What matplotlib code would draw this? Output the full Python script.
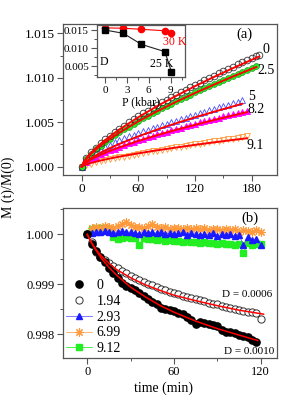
import matplotlib
matplotlib.use("Agg")
import matplotlib.pyplot as plt
from matplotlib.ticker import MultipleLocator

plt.rcParams['font.family'] = ['Liberation Serif', 'DejaVu Serif']
plt.rcParams['mathtext.fontset'] = 'stix'

# ---------------- panel (a) data ----------------
t_a0 = [0, 5, 10, 15, 20, 25, 30, 35, 40, 45, 50, 55, 60, 65, 70, 75, 80, 85, 90, 95, 100,
        105, 110, 115, 120, 125, 130, 135, 140, 145, 150, 155, 160, 165, 170, 175, 180, 185, 188]
m_p0 = [1.00000, 1.00100, 1.00162, 1.00215, 1.00263, 1.00307, 1.00349, 1.00388, 1.00427, 1.00463,
        1.00499, 1.00533, 1.00566, 1.00599, 1.00631, 1.00662, 1.00693, 1.00723, 1.00752, 1.00781,
        1.00810, 1.00838, 1.00866, 1.00893, 1.00920, 1.00947, 1.00973, 1.00999, 1.01025, 1.01051,
        1.01076, 1.01101, 1.01126, 1.01150, 1.01174, 1.01198, 1.01222, 1.01246, 1.01260]

t_a25 = [0, 5, 10, 15, 20, 25, 30, 35, 40, 45, 50, 55, 60, 65, 70, 75, 80, 85, 90, 95, 100,
         105, 110, 115, 120, 125, 130, 135, 140, 145, 150, 155, 160, 165, 170, 175, 180, 185]
m_p25 = [1.00000, 1.00090, 1.00147, 1.00195, 1.00238, 1.00278, 1.00316, 1.00352, 1.00387, 1.00420,
         1.00452, 1.00484, 1.00514, 1.00543, 1.00572, 1.00601, 1.00629, 1.00656, 1.00683, 1.00709,
         1.00735, 1.00760, 1.00785, 1.00810, 1.00835, 1.00859, 1.00883, 1.00907, 1.00930, 1.00953,
         1.00976, 1.00999, 1.01021, 1.01043, 1.01065, 1.01087, 1.01109, 1.01130]

t_a5 = [0, 5, 10, 15, 20, 25, 30, 35, 40, 45, 50, 55, 60, 65, 70, 75, 80, 85, 90, 95, 100,
        105, 110, 115, 120, 125, 130, 135, 140, 145, 150, 155, 160, 165, 170]
m_p5 = [1.00000, 1.00075, 1.00118, 1.00156, 1.00190, 1.00220, 1.00248, 1.00274, 1.00298, 1.00320,
        1.00340, 1.00360, 1.00379, 1.00397, 1.00415, 1.00433, 1.00450, 1.00467, 1.00484, 1.00500,
        1.00516, 1.00532, 1.00550, 1.00567, 1.00584, 1.00601, 1.00618, 1.00635, 1.00651, 1.00667,
        1.00683, 1.00699, 1.00715, 1.00730, 1.00746]

t_a82 = [0, 5, 10, 15, 20, 25, 30, 35, 40, 45, 50, 55, 60, 65, 70, 75, 80, 85, 90, 95, 100,
         105, 110, 115, 120, 125, 130, 135, 140, 145, 150, 155, 160, 165, 170, 175]
m_p82 = [1.00000, 1.00052, 1.00085, 1.00113, 1.00138, 1.00161, 1.00183, 1.00204, 1.00224, 1.00243,
         1.00262, 1.00280, 1.00298, 1.00315, 1.00332, 1.00348, 1.00364, 1.00380, 1.00395, 1.00411,
         1.00426, 1.00440, 1.00455, 1.00469, 1.00484, 1.00498, 1.00511, 1.00525, 1.00539, 1.00552,
         1.00565, 1.00578, 1.00591, 1.00604, 1.00617, 1.00630]

t_a91 = [0, 5, 10, 15, 20, 25, 30, 35, 40, 45, 50, 55, 60, 65, 70, 75, 80, 85, 90, 95, 100,
         105, 110, 115, 120, 125, 130, 135, 140, 145, 150, 155, 160, 165, 170, 175]
m_p91 = [1.00000, 1.00020, 1.00034, 1.00048, 1.00060, 1.00072, 1.00083, 1.00094, 1.00104, 1.00115,
         1.00125, 1.00135, 1.00145, 1.00154, 1.00163, 1.00173, 1.00182, 1.00191, 1.00200, 1.00209,
         1.00217, 1.00226, 1.00235, 1.00243, 1.00252, 1.00260, 1.00268, 1.00276, 1.00284, 1.00293,
         1.00301, 1.00309, 1.00316, 1.00324, 1.00332, 1.00340]

# fits (panel a)
tf_0 = [0, 2, 5, 10, 20, 30, 40, 60, 80, 100, 120, 140, 160, 188]
f_0 = [1.0, 1.00052, 1.00098, 1.00159, 1.00258, 1.00343, 1.00420, 1.00557, 1.00682, 1.00797,
       1.00906, 1.01009, 1.01108, 1.01240]
tf_25 = [0, 2, 5, 10, 20, 30, 40, 60, 80, 100, 120, 140, 160, 185]
f_25 = [1.0, 1.00047, 1.00090, 1.00146, 1.00237, 1.00314, 1.00384, 1.00510, 1.00624, 1.00730,
        1.00829, 1.00923, 1.01014, 1.01122]
tf_5 = [0, 2, 5, 10, 20, 30, 40, 60, 80, 100, 120, 140, 170]
f_5 = [1.0, 1.00032, 1.00060, 1.00097, 1.00158, 1.00210, 1.00257, 1.00342, 1.00418, 1.00489,
       1.00555, 1.00618, 1.00708]
tf_82 = [0, 2, 5, 10, 20, 30, 40, 60, 80, 100, 120, 140, 160, 175]
f_82 = [1.0, 1.00027, 1.00051, 1.00083, 1.00134, 1.00179, 1.00218, 1.00290, 1.00355, 1.00415,
        1.00471, 1.00525, 1.00576, 1.00614]
tf_91 = [0, 2, 5, 10, 20, 30, 40, 60, 80, 100, 120, 140, 160, 175]
f_91 = [1.0, 1.00014, 1.00027, 1.00043, 1.00070, 1.00093, 1.00114, 1.00151, 1.00185, 1.00216,
        1.00246, 1.00274, 1.00301, 1.00320]

# inset data
P_kbar = [0, 2.5, 5, 8.2, 9.1]
D_30K = [0.0156, 0.0155, 0.0152, 0.0148, 0.01425]
D_25K = [0.0150, 0.0141, 0.0110, 0.0090, 0.0034]

# ---------------- panel (b) data ----------------
t_b = [0, 3, 6, 9, 12, 15, 18, 21, 24, 27, 30, 33, 36, 39, 42, 45, 48, 51, 54, 57, 60,
       63, 66, 69, 72, 75, 78, 81, 84, 87, 90, 93, 96, 99, 102, 105, 108, 111, 114, 117, 120]
b_0 = [1.00000, 0.99981, 0.99966, 0.99955, 0.99944, 0.99933, 0.99922, 0.99912, 0.99902, 0.99896,
       0.99893, 0.99888, 0.99883, 0.99877, 0.99870, 0.99864, 0.99860, 0.99853, 0.99850, 0.99849,
       0.99846, 0.99843, 0.99840, 0.99834, 0.99828, 0.99820, 0.99824, 0.99823, 0.99820, 0.99818,
       0.99816, 0.99808, 0.99805, 0.99804, 0.99802, 0.99799, 0.99797, 0.99795, 0.99789, 0.99785]
b_194 = [1.00000, 0.99985, 0.99964, 0.99955, 0.99948, 0.99942, 0.99937, 0.99932, 0.99927, 0.99922,
         0.99917, 0.99913, 0.99909, 0.99905, 0.99901, 0.99898, 0.99895, 0.99891, 0.99888, 0.99885,
         0.99882, 0.99880, 0.99877, 0.99875, 0.99873, 0.99870, 0.99868, 0.99866, 0.99863, 0.99861,
         0.99860, 0.99857, 0.99855, 0.99852, 0.99851, 0.99848, 0.99847, 0.99845, 0.99845, 0.99843,
         0.99830]
b_293 = [1.00000, 1.00003, 1.00005, 1.00004, 1.00006, 1.00004, 1.00003, 1.00005, 1.00007, 1.00004,
         1.00005, 1.00003, 1.00001, 1.00005, 1.00003, 1.00004, 1.00002, 1.00005, 1.00001, 1.00003,
         1.00000, 1.00002, 1.00004, 0.99999, 1.00002, 1.00000, 0.99998, 1.00001, 0.99999, 1.00002,
         0.99997, 1.00000, 0.99998, 1.00001, 0.99997, 0.99999, 0.99979, 0.99995, 0.99988, 0.99990,
         0.99978]
b_699 = [1.00000, 1.00012, 1.00014, 1.00013, 1.00016, 1.00014, 1.00013, 1.00016, 1.00020, 1.00024,
         1.00018, 1.00014, 1.00015, 1.00013, 1.00016, 1.00020, 1.00014, 1.00012, 1.00014, 1.00011,
         1.00013, 1.00012, 1.00010, 1.00013, 1.00011, 1.00012, 1.00010, 1.00012, 1.00009, 1.00011,
         1.00010, 1.00008, 1.00011, 1.00009, 1.00010, 1.00004, 1.00008, 1.00007, 1.00005, 1.00008,
         1.00005]
b_912 = [1.00000, 1.00010, 1.00012, 1.00013, 1.00012, 1.00010, 0.99995, 0.99990, 0.99992, 0.99994,
         0.99993, 0.99992, 0.99978, 0.99993, 0.99990, 0.99991, 0.99989, 0.99990, 0.99987, 0.99988,
         0.99986, 0.99987, 0.99985, 0.99987, 0.99984, 0.99985, 0.99983, 0.99984, 0.99982, 0.99983,
         0.99981, 0.99982, 0.99980, 0.99981, 0.99979, 0.99980, 0.99962, 0.99982, 0.99979, 0.99980,
         0.99980]

tf_b10 = [0, 1, 2, 4, 7, 10, 15, 20, 30, 40, 50, 60, 75, 90, 105, 118]
f_b10 = [1.0, 0.99994, 0.99988, 0.99978, 0.99964, 0.99951, 0.99934, 0.99919, 0.99894, 0.99875,
         0.99858, 0.99844, 0.99826, 0.99811, 0.99798, 0.99787]
tf_b06 = [0, 1, 2, 4, 7, 10, 15, 20, 30, 40, 50, 60, 75, 90, 105, 122]
f_b06 = [1.0, 0.99994, 0.99988, 0.99978, 0.99966, 0.99956, 0.99942, 0.99930, 0.99913, 0.99899,
         0.99888, 0.99878, 0.99867, 0.99857, 0.99848, 0.99840]

labels_a = ['0', '2.5', '5', '8.2', '9.1']
labels_b = ['0', '1.94', '2.93', '6.99', '9.12']

# ---------------- figure ----------------
W, H = 306, 396
fig = plt.figure(figsize=(W / 100, H / 100), dpi=100)

def box(l, t, r, b):
    return [l / W, 1 - b / H, (r - l) / W, (b - t) / H]

spine_col = '#555555'

def style(ax, fs):
    for s in ax.spines.values():
        s.set_color(spine_col)
        s.set_linewidth(0.9)
    ax.tick_params(which='both', direction='out', color=spine_col, labelsize=fs,
                   top=False, right=False, pad=2)
    ax.tick_params(which='major', length=4, width=0.8)
    ax.tick_params(which='minor', length=2, width=0.7)

red = '#ff0000'

# panel (a)
axa = fig.add_axes(box(63, 24, 277, 175))
style(axa, 9.5)
ms = 4.2
axa.plot(t_a91, m_p91, ls='none', marker='v', ms=ms, mfc='none', mec='#ff9a3c', mew=0.6)
axa.plot(t_a82, m_p82, ls='none', marker='^', ms=ms, mfc='#ff00ff', mec='#ff00ff', mew=0.6)
axa.plot(t_a5, m_p5, ls='none', marker='^', ms=ms, mfc='none', mec='#4b4bff', mew=0.6)
axa.plot(t_a25, m_p25, ls='none', marker='o', ms=ms, mfc='#22ee22', mec='#229922', mew=0.5)
axa.plot(t_a0, m_p0, ls='none', marker='o', ms=ms + 0.6, mfc='none', mec='#333333', mew=0.6)
for tf, ff in [(tf_0, f_0), (tf_25, f_25), (tf_5, f_5), (tf_82, f_82), (tf_91, f_91)]:
    axa.plot(tf, ff, color=red, lw=1.4)
axa.set_xlim(-19.8, 206.8)
axa.set_ylim(0.99907, 1.01605)
axa.xaxis.set_major_locator(MultipleLocator(60))
axa.xaxis.set_minor_locator(MultipleLocator(30))
axa.yaxis.set_major_locator(MultipleLocator(0.005))
axa.yaxis.set_minor_locator(MultipleLocator(0.0025))
axa.yaxis.set_major_formatter(matplotlib.ticker.FormatStrFormatter('%.3f'))
axa.text(0.85, 0.934, '(a)', transform=axa.transAxes, fontsize=10.5, ha='center', va='center')
lab_pos = [(191, 1.01322), (186, 1.01087), (176, 1.00795), (176, 1.00640), (175, 1.00244)]
for lab, (x, y) in zip(labels_a, lab_pos):
    axa.text(x, y, lab, fontsize=10, ha='left', va='center')

# inset
axi = fig.add_axes(box(97.3, 25, 185, 77.3))
style(axi, 8)
axi.plot(P_kbar, D_30K, color=red, lw=0.8, marker='o', ms=4.5, mfc=red, mec=red)
axi.plot(P_kbar, D_25K, color='#222222', lw=0.8, marker='s', ms=3.8, mfc='black', mec='black')
axi.set_xlim(-1.05, 10.96)
axi.set_ylim(0.00186, 0.0164)
axi.xaxis.set_major_locator(MultipleLocator(3))
axi.xaxis.set_minor_locator(MultipleLocator(1.5))
axi.yaxis.set_major_locator(MultipleLocator(0.005))
axi.yaxis.set_minor_locator(MultipleLocator(0.0025))
axi.yaxis.set_major_formatter(matplotlib.ticker.FormatStrFormatter('%.3f'))
axi.set_xlabel('P (kbar)', fontsize=8.5, labelpad=1)
axi.text(7.95, 0.01167, '30 K', color=red, fontsize=8.5, ha='left', va='center')
axi.text(-0.7, 0.00611, 'D', fontsize=8.5, ha='left', va='center')
axi.text(6.2, 0.00556, '25 K', fontsize=8.5, ha='left', va='center')

# panel (b)
axb = fig.add_axes(box(63, 208, 277, 358))
style(axb, 9)
h912, = axb.plot(t_b, b_912, color='#33ee33', lw=0.6, marker='s', ms=4.3, mfc='#22ee22', mec='#22ee22')
h699, = axb.plot(t_b, b_699, color='#ffaa66', lw=0.6, marker=(8, 2, 0), ms=6, mfc='none', mec='#ff9a3c', mew=0.8)
h293, = axb.plot(t_b, b_293, color='#6666ff', lw=0.6, marker='^', ms=4.3, mfc='#1a1aff', mec='#1a1aff')
h194, = axb.plot(t_b, b_194, ls='none', marker='o', ms=5.2, mfc='white', mec='#333333', mew=0.7)
h0, = axb.plot(t_b[:40], b_0, ls='none', marker='o', ms=5.2, mfc='black', mec='black')
axb.plot(tf_b06, f_b06, color=red, lw=1.1)
axb.plot(tf_b10, f_b10, color=red, lw=1.1)
axb.set_xlim(-16.8, 131.3)
axb.set_ylim(0.99752, 1.00053)
axb.xaxis.set_major_locator(MultipleLocator(60))
axb.xaxis.set_minor_locator(MultipleLocator(30))
axb.yaxis.set_major_locator(MultipleLocator(0.001))
axb.yaxis.set_minor_locator(MultipleLocator(0.0005))
axb.yaxis.set_major_formatter(matplotlib.ticker.FormatStrFormatter('%.3f'))
axb.text(0.874, 0.933, '(b)', transform=axb.transAxes, fontsize=10.5, ha='center', va='center')
axb.text(93.3, 0.998786, 'D = 0.0006', fontsize=8, ha='left', va='center')
axb.text(94.7, 0.997646, 'D = 0.0010', fontsize=8, ha='left', va='center')
axb.legend([h0, h194, h293, h699, h912], labels_b, loc='lower left', bbox_to_anchor=(0.0, 0.0),
           frameon=False, fontsize=10, handlelength=1.9, handletextpad=0.3, borderpad=0.2,
           borderaxespad=0.0, labelspacing=0.2)

fig.text(0.026, 0.528, 'M (t)/M(0)', rotation=90, fontsize=10, ha='center', va='center')
fig.text(164 / W, 1 - 388 / H, 'time (min)', fontsize=10, ha='center', va='center')

fig.savefig('out.png', dpi=100)
